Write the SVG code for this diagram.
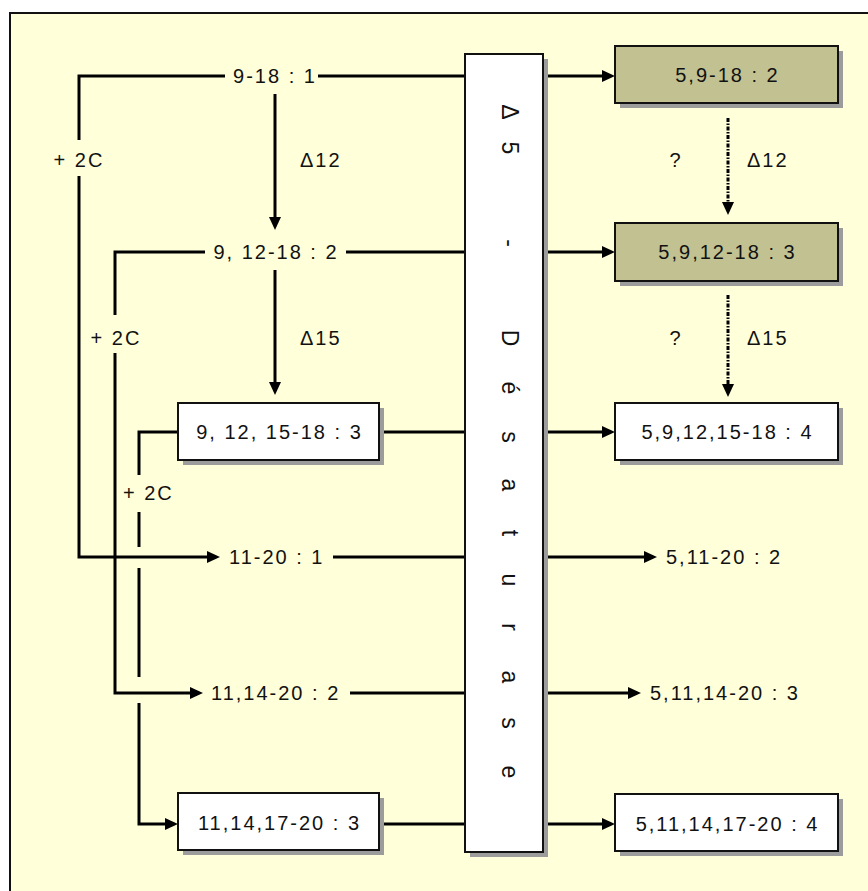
<svg xmlns="http://www.w3.org/2000/svg" width="868" height="891" viewBox="0 0 868 891">
<style>
text{font-family:"Liberation Sans",Arial,sans-serif;font-size:20px;letter-spacing:2px;fill:#111}
.m{text-anchor:middle}
.ln{fill:none;stroke:#000;stroke-width:3}
.ar{marker-end:url(#ah)}
.dash{stroke-dasharray:4 1.5 1.5 1.5}
.box{fill:#fff;stroke:#111;stroke-width:2}
.olive{fill:#C1C192;stroke:#111;stroke-width:2}
.sh{fill:#9c9c9c}
.vt{font-size:23px;letter-spacing:0;text-anchor:middle}
</style>
<defs>
<marker id="ah" markerUnits="userSpaceOnUse" viewBox="0 -7 14 14" refX="5" refY="0" markerWidth="14" markerHeight="14" orient="auto">
<path d="M0,-6 L13,0 L0,6 z" fill="#000"/>
</marker>
</defs>
<rect x="10" y="13" width="870" height="890" fill="#FFFFDA" stroke="#111" stroke-width="2"/>

<g id="connectors">
<path class="ln" d="M225,76 H79 V140"/>
<path class="ln ar" d="M79,176 V557 H212"/>
<path class="ln" d="M205,252 H115 V315"/>
<path class="ln ar" d="M115,353 V693 H195"/>
<path class="ln" d="M178,432 H139 V475"/>
<path class="ln" d="M139,512 V547"/>
<path class="ln" d="M139,568 V677"/>
<path class="ln ar" d="M139,703 V824 H170"/>
<path class="ln ar" d="M275,94 V222"/>
<path class="ln ar" d="M275,270 V387"/>
<path class="ln ar dash" d="M728,118 V207"/>
<path class="ln ar dash" d="M728,295 V389"/>
<path class="ln" d="M318,76 H465"/>
<path class="ln" d="M346,252 H465"/>
<path class="ln" d="M384,432 H465"/>
<path class="ln" d="M333,557 H465"/>
<path class="ln" d="M350,693 H465"/>
<path class="ln" d="M384,824 H465"/>
<path class="ln ar" d="M543,76 H607"/>
<path class="ln ar" d="M543,252 H607"/>
<path class="ln ar" d="M543,432 H607"/>
<path class="ln ar" d="M543,557 H649"/>
<path class="ln ar" d="M543,693 H633"/>
<path class="ln ar" d="M543,824 H607"/>
</g>

<g id="labels">
<text class="m" x="79" y="167">+ 2C</text>
<text class="m" x="116" y="345">+ 2C</text>
<text x="123" y="500">+ 2C</text>
<text x="300" y="167">Δ12</text>
<text x="300" y="345">Δ15</text>
<text class="m" x="676" y="167">?</text>
<text class="m" x="676" y="345">?</text>
<text x="747" y="167">Δ12</text>
<text x="747" y="345">Δ15</text>
</g>

<g id="n-9-18-1"><text class="m" x="275" y="83">9-18 : 1</text></g>
<g id="n-9-12-18-2"><text class="m" x="276" y="259">9, 12-18 : 2</text></g>
<g id="n-9-12-15-18-3">
<rect class="sh" x="183" y="408" width="201" height="57"/>
<rect class="box" x="178" y="403" width="201" height="57"/>
<text class="m" x="279.5" y="439">9, 12, 15-18 : 3</text>
</g>
<g id="n-11-20-1"><text x="229" y="564">11-20 : 1</text></g>
<g id="n-11-14-20-2"><text x="211" y="700">11,14-20 : 2</text></g>
<g id="n-11-14-17-20-3">
<rect class="sh" x="183" y="798" width="201" height="57"/>
<rect class="box" x="178" y="793" width="201" height="57"/>
<text class="m" x="279.5" y="830">11,14,17-20 : 3</text>
</g>

<g id="desaturase">
<rect class="sh" x="470" y="59" width="78" height="798"/>
<rect class="box" x="465" y="54" width="78" height="798"/>
<text class="vt" transform="rotate(90)" y="-502" x="112 130 148 195 243 290 338 388 437 485 533 580 627 677 723 772">Δ 5 - Désaturase</text>
</g>

<g id="n-5-9-18-2">
<rect class="sh" x="620" y="51" width="223" height="57"/>
<rect class="olive" x="615" y="46" width="223" height="57"/>
<text class="m" x="727.5" y="82">5,9-18 : 2</text>
</g>
<g id="n-5-9-12-18-3">
<rect class="sh" x="620" y="228" width="223" height="58"/>
<rect class="olive" x="615" y="223" width="223" height="58"/>
<text class="m" x="727.5" y="259">5,9,12-18 : 3</text>
</g>
<g id="n-5-9-12-15-18-4">
<rect class="sh" x="620" y="408" width="223" height="57"/>
<rect class="box" x="615" y="403" width="223" height="57"/>
<text class="m" x="727.5" y="439">5,9,12,15-18 : 4</text>
</g>
<g id="n-5-11-20-2"><text x="666" y="564">5,11-20 : 2</text></g>
<g id="n-5-11-14-20-3"><text x="650" y="700">5,11,14-20 : 3</text></g>
<g id="n-5-11-14-17-20-4">
<rect class="sh" x="620" y="799" width="223" height="57"/>
<rect class="box" x="615" y="794" width="223" height="57"/>
<text class="m" x="727.5" y="831">5,11,14,17-20 : 4</text>
</g>
</svg>
